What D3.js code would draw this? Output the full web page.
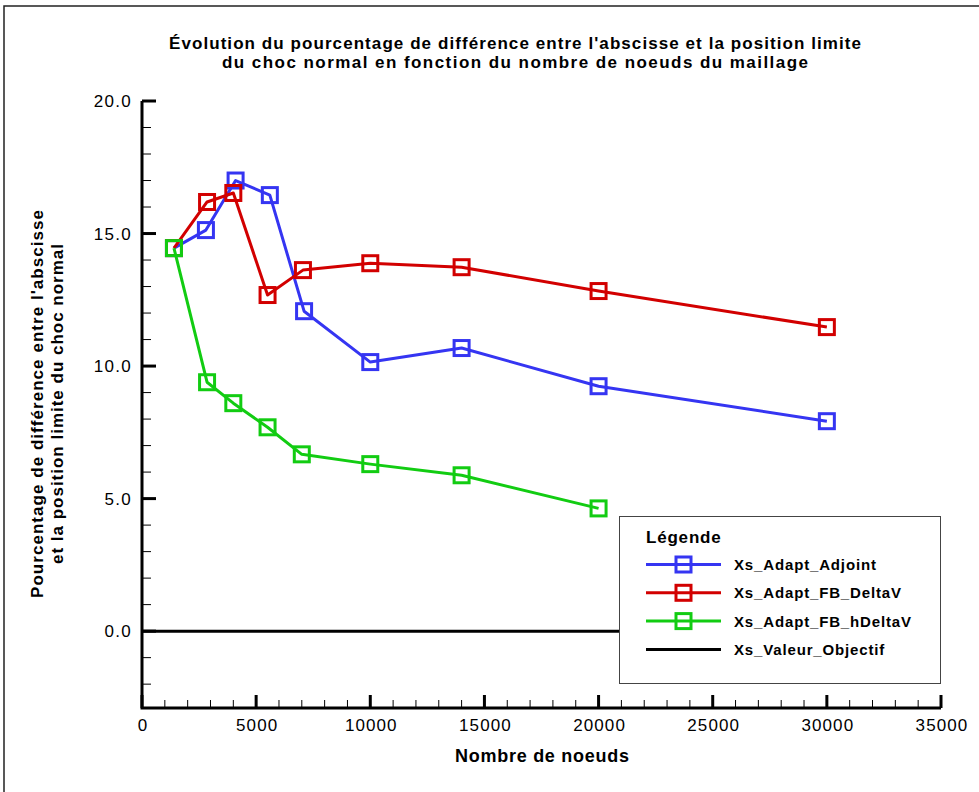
<!DOCTYPE html>
<html lang="fr">
<head>
<meta charset="UTF-8">
<title>Évolution du pourcentage de différence</title>
<script src="https://cdn.jsdelivr.net/npm/d3@7"></script>
<style>
    body { margin: 0; background: #fff; }
    text { font-family: "Liberation Sans", Arial, sans-serif; fill: #000; }
</style>
</head>
<body>
<script>
    // données
    const adjointX = [1400, 2800, 4100, 5600, 7100, 10000, 14000, 20000, 30000];
    const adjointY = [14.45, 15.13, 17.0, 16.45, 12.07, 10.15, 10.68, 9.24, 7.92];
    const deltaVX = [1400, 2850, 4000, 5500, 7050, 10000, 14000, 20000, 30000];
    const deltaVY = [14.45, 16.19, 16.53, 12.68, 13.62, 13.88, 13.73, 12.83, 11.47];
    const hDeltaVX = [1400, 2850, 4000, 5500, 7000, 10000, 14000, 20000];
    const hDeltaVY = [14.45, 9.39, 8.6, 7.69, 6.67, 6.3, 5.88, 4.63];
    const objectifX = [0, 35000];
    const objectifY = [0, 0];

    const seriesNames = ['Xs_Adapt_Adjoint', 'Xs_Adapt_FB_DeltaV', 'Xs_Adapt_FB_hDeltaV', 'Xs_Valeur_Objectif'];
    const seriesColors = ['#3535f2', '#d20000', '#12cc12', '#000000'];
    const xTicks = [0, 5000, 10000, 15000, 20000, 25000, 30000, 35000];
    const yTicks = [0, 5, 10, 15, 20];

    const w = 979, h = 792;
    const svg = d3.select('body').append('svg')
        .attr('width', w)
        .attr('height', h);

    // cadre extérieur
    svg.append('path')
        .attr('d', `M4,${h} L4,6 L${w},6`)
        .attr('fill', 'none')
        .attr('stroke', '#222')
        .attr('stroke-width', 1.5);

    const xScale = d3.scaleLinear().domain([0, 35000]).range([142, 941]);
    const yScale = d3.scaleLinear().domain([-2.9, 20]).range([708, 101]);

    // titre
    const title = svg.append('text')
        .attr('text-anchor', 'middle')
        .attr('font-size', '17px')
        .attr('font-weight', 'bold');
    title.append('tspan').attr('x', 515).attr('y', 49)
        .attr('textLength', 692).attr('lengthAdjust', 'spacing')
        .text("Évolution du pourcentage de différence entre l'abscisse et la position limite");
    title.append('tspan').attr('x', 515).attr('y', 68)
        .attr('textLength', 586).attr('lengthAdjust', 'spacing')
        .text('du choc normal en fonction du nombre de noeuds du maillage');

    // axes
    const ax = svg.append('g');
    // ticks mineurs
    d3.range(1000, 35000, 1000).filter(v => v % 5000 !== 0).forEach(v => {
        ax.append('line')
            .attr('x1', xScale(v)).attr('x2', xScale(v))
            .attr('y1', 708).attr('y2', 700)
            .attr('stroke', '#000').attr('stroke-width', 1);
    });
    d3.range(-2, 20, 1).filter(v => v % 5 !== 0).forEach(v => {
        ax.append('line')
            .attr('x1', 142).attr('x2', 151)
            .attr('y1', yScale(v)).attr('y2', yScale(v))
            .attr('stroke', '#000').attr('stroke-width', 1);
    });
    // ticks majeurs
    xTicks.forEach(v => {
        ax.append('line')
            .attr('x1', xScale(v)).attr('x2', xScale(v))
            .attr('y1', 708).attr('y2', 695)
            .attr('stroke', '#000').attr('stroke-width', 3);
        ax.append('text')
            .attr('x', xScale(v) + 1).attr('y', 731)
            .attr('text-anchor', 'middle')
            .attr('font-size', '17px')
            .attr('letter-spacing', '1.1px')
            .text(v);
    });
    yTicks.forEach(v => {
        ax.append('line')
            .attr('x1', 142).attr('x2', 156)
            .attr('y1', yScale(v)).attr('y2', yScale(v))
            .attr('stroke', '#000').attr('stroke-width', 3);
        ax.append('text')
            .attr('x', 132).attr('y', yScale(v) + 6)
            .attr('text-anchor', 'end')
            .attr('font-size', '17px')
            .attr('letter-spacing', '1.3px')
            .text(d3.format('.1f')(v));
    });
    ax.append('path')
        .attr('d', `M142,101 L142,708 L941,708`)
        .attr('fill', 'none')
        .attr('stroke', '#000')
        .attr('stroke-width', 3);

    // libellés des axes
    svg.append('text')
        .attr('x', 542).attr('y', 762)
        .attr('text-anchor', 'middle')
        .attr('font-size', '18px')
        .attr('font-weight', 'bold')
        .attr('textLength', 174).attr('lengthAdjust', 'spacing')
        .text('Nombre de noeuds');
    const yLab = svg.append('text')
        .attr('transform', 'translate(43,404) rotate(-90)')
        .attr('text-anchor', 'middle')
        .attr('font-size', '17px')
        .attr('font-weight', 'bold');
    yLab.append('tspan').attr('x', 0).attr('y', 0)
        .attr('textLength', 388).attr('lengthAdjust', 'spacing')
        .text("Pourcentage de différence entre l'abscisse");
    yLab.append('tspan').attr('x', 0).attr('y', 20)
        .attr('textLength', 320).attr('lengthAdjust', 'spacing')
        .text('et la position limite du choc normal');

    // séries
    const line = d3.line().x(d => xScale(d[0])).y(d => yScale(d[1]));
    const series = [
        {x: objectifX, y: objectifY, marker: false},
        {x: adjointX, y: adjointY, marker: true},
        {x: deltaVX, y: deltaVY, marker: true},
        {x: hDeltaVX, y: hDeltaVY, marker: true}
    ];
    const seriesIdx = [3, 0, 1, 2];
    const sq = 15;
    series.forEach((s, k) => {
        const col = seriesColors[seriesIdx[k]];
        const pts = s.x.map((v, i) => [v, s.y[i]]);
        svg.append('path')
            .attr('d', line(pts))
            .attr('fill', 'none')
            .attr('stroke', col)
            .attr('stroke-width', 3)
            .attr('stroke-linejoin', 'round');
        if (s.marker) {
            svg.selectAll(null)
                .data(pts)
                .enter()
                .append('rect')
                .attr('x', d => xScale(d[0]) - sq / 2)
                .attr('y', d => yScale(d[1]) - sq / 2)
                .attr('width', sq)
                .attr('height', sq)
                .attr('fill', 'none')
                .attr('stroke', col)
                .attr('stroke-width', 3);
        }
    });

    // légende
    const lg = svg.append('g');
    lg.append('rect')
        .attr('x', 619.5).attr('y', 516.5)
        .attr('width', 321).attr('height', 167)
        .attr('fill', '#fff')
        .attr('stroke', '#444')
        .attr('stroke-width', 1);
    lg.append('text')
        .attr('x', 646).attr('y', 543)
        .attr('font-size', '17px')
        .attr('font-weight', 'bold')
        .attr('letter-spacing', '0.8px')
        .text('Légende');
    seriesNames.forEach((name, i) => {
        const yy = 564.5 + i * 28.3;
        lg.append('line')
            .attr('x1', 646).attr('x2', 721)
            .attr('y1', yy).attr('y2', yy)
            .attr('stroke', seriesColors[i])
            .attr('stroke-width', 3);
        if (i < 3) {
            lg.append('rect')
                .attr('x', 683.5 - sq / 2).attr('y', yy - sq / 2)
                .attr('width', sq).attr('height', sq)
                .attr('fill', 'none')
                .attr('stroke', seriesColors[i])
                .attr('stroke-width', 3);
        }
        lg.append('text')
            .attr('x', 734).attr('y', yy + 5.5)
            .attr('font-size', '15px')
            .attr('font-weight', 'bold')
            .attr('letter-spacing', '0.85px')
            .text(name);
    });
</script>
</body>
</html>
